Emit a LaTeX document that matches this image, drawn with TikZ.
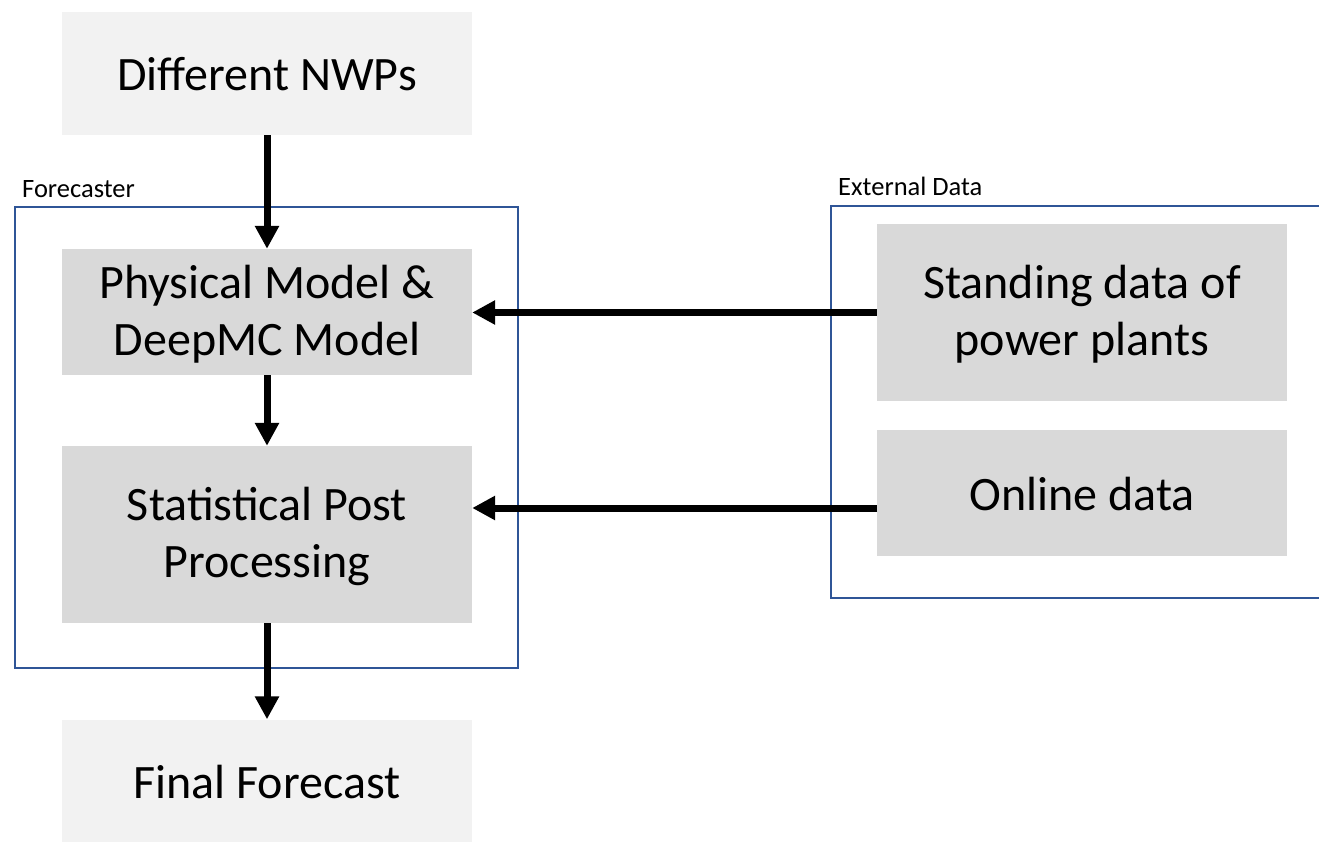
\documentclass[tikz,border=0pt]{standalone}
\usepackage{fontspec}
\setmainfont{Carlito}
\usetikzlibrary{arrows.meta}
\definecolor{lightbox}{HTML}{F2F2F2}
\definecolor{midbox}{HTML}{D9D9D9}
\definecolor{frameblue}{HTML}{2F5597}
\tikzset{
  boxbase/.style={rectangle, inner sep=0pt, minimum width=410pt, align=center,
    font=\fontsize{48}{57}\selectfont, text=black},
  oneline/.style={text height=35pt, text depth=0pt},
  twoline/.style={text height=86pt, text depth=0pt},
  lightnode/.style={boxbase, fill=lightbox},
  midnode/.style={boxbase, fill=midbox},
  groupframe/.style={draw=frameblue, line width=2pt},
  grouplabel/.style={font=\fontsize{26.5}{30}\selectfont, inner sep=0pt, anchor=base west},
  flow/.style={line width=7pt, -{Triangle[length=23pt,width=23pt]}}
}
\begin{document}
\begin{tikzpicture}[x=1pt,y=-1pt]
\useasboundingbox (0,0) rectangle (1319,842);
\clip (0,0) rectangle (1319,842);
\fill[white] (0,0) rectangle (1319,842);
% group frames
\draw[groupframe] (15,207) rectangle (518,668);
\draw[groupframe] (831,206) rectangle (1340,598);
\node[grouplabel] (lblf) at (22,198) {Forecaster};
\node[grouplabel] (lble) at (838,196) {External Data};
% boxes
\node[lightnode, oneline, minimum height=123pt] (nwp) at (267,73.5) {Different NWPs};
\node[midnode, twoline, minimum height=126pt] (phys) at (267,312) {Physical Model \&\\DeepMC Model};
\node[midnode, twoline, minimum height=177pt] (stat) at (267,534.5) {Statistical Post\\Processing};
\node[lightnode, oneline, minimum height=123pt] (final) at (267,781) {Final Forecast};
\node[midnode, twoline, minimum height=177pt] (stand) at (1082,312.5) {Standing data of\\power plants};
\node[midnode, oneline, minimum height=126pt] (online) at (1082,493) {Online data};
\coordinate (onl) at (877,508);
% connectors
\draw[flow] (nwp.south) -- (phys.north);
\draw[flow] (phys.south) -- (stat.north);
\draw[flow] (stat.south) -- (final.north);
\draw[flow] (stand.west) -- (stand.west -| phys.east);
\draw[flow] (onl) -- (onl -| stat.east);
\end{tikzpicture}
\end{document}
